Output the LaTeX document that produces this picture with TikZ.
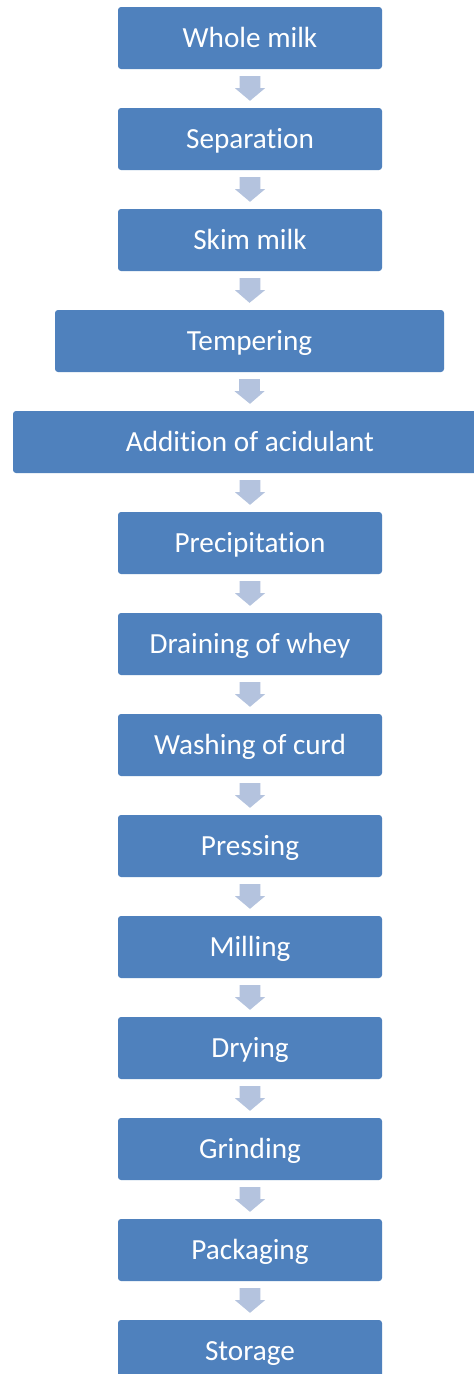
\documentclass[tikz,border=0pt]{standalone}
\usepackage{fontspec}
\setmainfont{Carlito}[Ligatures=CommonOff]
\usetikzlibrary{calc}
\definecolor{boxblue}{HTML}{4F81BD}
\definecolor{arrowblue}{HTML}{B4C3DE}
\tikzset{
  stepbox/.style={fill=boxblue, rounded corners=3pt, minimum width=264pt,
    minimum height=62pt, inner sep=0pt, text=white,
    text height=20pt, text depth=0.8pt,
    font=\fontsize{29.2}{30}\selectfont},
  flowfill/.style={fill=arrowblue, draw=none}
}
% block arrow from the bottom of one box to the top of the next
\newcommand{\flowarrow}[2]{%
  \fill[flowfill] ($(#1.south)+(-10.4,-7)$) -- ($(#1.south)+(10.4,-7)$)
    -- ($(#1.south)+(10.4,-19)$) -- ($(#1.south)+(15,-19)$)
    -- ($(#2.north)+(0,7)$) -- ($(#1.south)+(-15,-19)$)
    -- ($(#1.south)+(-10.4,-19)$) -- cycle;}
\begin{document}
\begin{tikzpicture}[x=1pt,y=1pt]
\useasboundingbox (0,0) rectangle (474,-1374);
\clip (0,0) rectangle (474,-1374);
\fill[white] (0,0) rectangle (474,-1374);
\node[stepbox] (s0) at (250,-38) {Whole milk};
\node[stepbox] (s1) at (250,-139) {Separation};
\node[stepbox] (s2) at (250,-240) {Skim milk};
\node[stepbox, minimum width=389pt] (s3) at (249.5,-341) {Tempering};
\node[stepbox, minimum width=474pt] (s4) at (250,-442) {Addition of acidulant};
\node[stepbox] (s5) at (250,-543) {Precipitation};
\node[stepbox] (s6) at (250,-644) {Draining of whey};
\node[stepbox] (s7) at (250,-745) {Washing of curd};
\node[stepbox] (s8) at (250,-846) {Pressing};
\node[stepbox] (s9) at (250,-947) {Milling};
\node[stepbox] (s10) at (250,-1048) {Drying};
\node[stepbox] (s11) at (250,-1149) {Grinding};
\node[stepbox] (s12) at (250,-1250) {Packaging};
\node[stepbox] (s13) at (250,-1351) {Storage};
\foreach \i [evaluate=\i as \j using int(\i+1)] in {0,...,12}
  {\flowarrow{s\i}{s\j}}
\end{tikzpicture}
\end{document}
